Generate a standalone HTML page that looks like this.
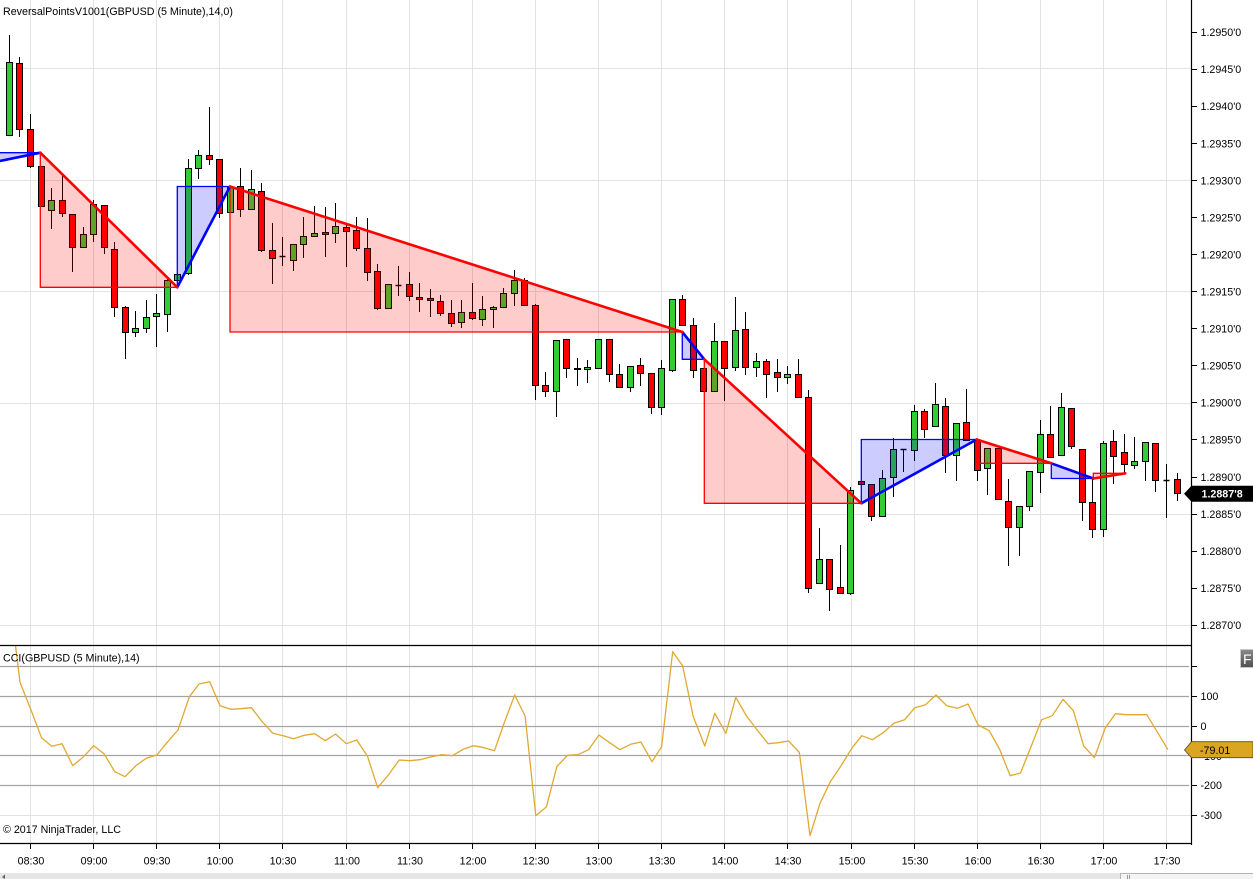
<!DOCTYPE html>
<html><head><meta charset="utf-8"><style>
html,body{margin:0;padding:0;background:#fff;}
svg{display:block;}
text{font-family:"Liberation Sans",Arial,sans-serif;font-size:10.7px;fill:#000;}
</style></head><body>
<svg width="1253" height="879" viewBox="0 0 1253 879" xmlns="http://www.w3.org/2000/svg">
<defs>
<clipPath id="cp"><rect x="0" y="0" width="1191" height="645"/></clipPath>
<clipPath id="cc"><rect x="0" y="646" width="1191" height="197"/></clipPath>
<linearGradient id="fg" x1="0" y1="0" x2="0" y2="1"><stop offset="0" stop-color="#8a8a8a"/><stop offset="1" stop-color="#505050"/></linearGradient>
</defs>
<rect x="0" y="0" width="1253" height="879" fill="#fff"/>

<!-- vertical gridlines -->
<g stroke="#e2e2e2" stroke-width="1">
<path d="M30.5 0V843M93.5 0V843M156.5 0V843M219.5 0V843M282.5 0V843M346.5 0V843M409.5 0V843M472.5 0V843M535.5 0V843M598.5 0V843M661.5 0V843M724.5 0V843M787.5 0V843M851.5 0V843M914.5 0V843M977.5 0V843M1040.5 0V843M1103.5 0V843M1166.5 0V843"/>
<path d="M0 68.5H1191M0 180.5H1191M0 291.5H1191M0 403.5H1191M0 514.5H1191M0 625.5H1191"/>
<path d="M0 815.5H1191"/>
</g>

<!-- candles -->
<g clip-path="url(#cp)">
<path stroke="#000" stroke-width="1" fill="none" d="M9.5 35V135M19.5 57V137M30.5 114V168M41.5 166V206M51.5 188V229M62.5 175V217M72.5 214V272M83.5 227V247M93.5 200V242M104.5 205V254M114.5 242V317M125.5 306V359M135.5 311V337M146.5 300V333M156.5 294V347M167.5 278V332M177.5 272V280M188.5 159V275M198.5 150V179M209.5 107V165M219.5 159V218M230.5 187V212M240.5 168V217M251.5 170V209M261.5 183V252M272.5 223V284M282.5 237V266M293.5 244V271M303.5 217V258M314.5 206V237M325.5 207V257M335.5 203V243M346.5 225V267M356.5 217V251M367.5 218V281M377.5 264V310M388.5 284V308M398.5 266V296M409.5 272V301M419.5 283V312M430.5 289V317M440.5 295V316M451.5 300V327M461.5 300V328M472.5 283V320M482.5 296V326M493.5 306V328M503.5 288V308M514.5 270V306M524.5 278V305M535.5 304V400M545.5 372V397M556.5 340V417M566.5 339V378M577.5 358V386M587.5 360V383M598.5 339V368M609.5 339V382M619.5 364V387M630.5 366V392M640.5 358V386M651.5 373V414M661.5 360V415M672.5 299V372M682.5 295V325M693.5 318V378M703.5 368V391M714.5 323V391M724.5 341V401M735.5 297V371M745.5 312V375M756.5 353V377M766.5 359V398M777.5 359V392M787.5 366V384M798.5 359V397M808.5 390V593M819.5 528V583M829.5 559V611M840.5 545V593M850.5 487V595M861.5 481V484M871.5 484V521M882.5 470V516M893.5 438V497M903.5 449V472M914.5 405V461M924.5 409V438M935.5 383V426M945.5 398V473M956.5 423V481M966.5 389V440M977.5 440V481M987.5 448V495M998.5 448V499M1008.5 479V566M1019.5 506V556M1029.5 471V511M1040.5 420V493M1050.5 406V457M1061.5 393V455M1071.5 408V449M1082.5 449V521M1092.5 479V538M1103.5 441V537M1113.5 430V484M1124.5 434V473M1134.5 437V469M1145.5 442V481M1155.5 443V492M1166.5 464V518M1177.5 473V501"/>
<g fill="#32cd32" stroke="#000" stroke-width="1">
<rect x="6.5" y="62.5" width="6" height="73"/>
<rect x="48.5" y="200.5" width="6" height="10"/>
<rect x="80.5" y="234.5" width="6" height="13"/>
<rect x="90.5" y="204.5" width="6" height="30"/>
<rect x="132.5" y="328.5" width="6" height="4"/>
<rect x="143.5" y="317.5" width="6" height="11"/>
<rect x="153.5" y="313.5" width="6" height="3"/>
<rect x="164.5" y="280.5" width="6" height="34"/>
<rect x="174.5" y="274.5" width="6" height="6"/>
<rect x="185.5" y="168.5" width="6" height="105"/>
<rect x="195.5" y="155.5" width="6" height="13"/>
<rect x="227.5" y="187.5" width="6" height="25"/>
<rect x="248.5" y="189.5" width="6" height="20"/>
<rect x="290.5" y="244.5" width="6" height="16"/>
<rect x="300.5" y="236.5" width="6" height="8"/>
<rect x="311.5" y="233.5" width="6" height="3"/>
<rect x="332.5" y="226.5" width="6" height="7"/>
<rect x="385.5" y="284.5" width="6" height="24"/>
<rect x="458.5" y="312.5" width="6" height="10"/>
<rect x="479.5" y="309.5" width="6" height="10"/>
<rect x="490.5" y="307.5" width="6" height="2"/>
<rect x="500.5" y="293.5" width="6" height="14"/>
<rect x="511.5" y="280.5" width="6" height="13"/>
<rect x="553.5" y="340.5" width="6" height="51"/>
<rect x="584.5" y="367.5" width="6" height="2"/>
<rect x="595.5" y="339.5" width="6" height="29"/>
<rect x="627.5" y="366.5" width="6" height="21"/>
<rect x="658.5" y="368.5" width="6" height="39"/>
<rect x="669.5" y="299.5" width="6" height="71"/>
<rect x="711.5" y="341.5" width="6" height="50"/>
<rect x="732.5" y="330.5" width="6" height="37"/>
<rect x="753.5" y="361.5" width="6" height="6"/>
<rect x="784.5" y="374.5" width="6" height="3"/>
<rect x="816.5" y="559.5" width="6" height="24"/>
<rect x="847.5" y="490.5" width="6" height="103"/>
<rect x="879.5" y="478.5" width="6" height="38"/>
<rect x="890.5" y="449.5" width="6" height="28"/>
<rect x="911.5" y="411.5" width="6" height="39"/>
<rect x="932.5" y="404.5" width="6" height="22"/>
<rect x="953.5" y="423.5" width="6" height="32"/>
<rect x="984.5" y="448.5" width="6" height="20"/>
<rect x="1016.5" y="506.5" width="6" height="21"/>
<rect x="1026.5" y="471.5" width="6" height="35"/>
<rect x="1037.5" y="434.5" width="6" height="38"/>
<rect x="1058.5" y="407.5" width="6" height="48"/>
<rect x="1100.5" y="443.5" width="6" height="86"/>
<rect x="1131.5" y="461.5" width="6" height="4"/>
<rect x="1142.5" y="442.5" width="6" height="19"/>
</g>
<g fill="#ff0000" stroke="#000" stroke-width="1">
<rect x="16.5" y="63.5" width="6" height="66"/>
<rect x="27.5" y="129.5" width="6" height="37"/>
<rect x="38.5" y="166.5" width="6" height="40"/>
<rect x="59.5" y="200.5" width="6" height="13"/>
<rect x="69.5" y="214.5" width="6" height="33"/>
<rect x="101.5" y="205.5" width="6" height="42"/>
<rect x="111.5" y="249.5" width="6" height="58"/>
<rect x="122.5" y="307.5" width="6" height="25"/>
<rect x="206.5" y="155.5" width="6" height="4"/>
<rect x="216.5" y="159.5" width="6" height="54"/>
<rect x="237.5" y="186.5" width="6" height="23"/>
<rect x="258.5" y="191.5" width="6" height="59"/>
<rect x="269.5" y="250.5" width="6" height="8"/>
<rect x="322.5" y="232.5" width="6" height="2"/>
<rect x="343.5" y="227.5" width="6" height="4"/>
<rect x="353.5" y="230.5" width="6" height="18"/>
<rect x="364.5" y="248.5" width="6" height="24"/>
<rect x="374.5" y="271.5" width="6" height="37"/>
<rect x="406.5" y="284.5" width="6" height="12"/>
<rect x="416.5" y="297.5" width="6" height="2"/>
<rect x="427.5" y="298.5" width="6" height="2"/>
<rect x="437.5" y="301.5" width="6" height="12"/>
<rect x="448.5" y="313.5" width="6" height="10"/>
<rect x="469.5" y="312.5" width="6" height="6"/>
<rect x="521.5" y="280.5" width="6" height="25"/>
<rect x="532.5" y="305.5" width="6" height="80"/>
<rect x="542.5" y="385.5" width="6" height="6"/>
<rect x="563.5" y="339.5" width="6" height="29"/>
<rect x="574.5" y="368.5" width="6" height="1"/>
<rect x="606.5" y="339.5" width="6" height="35"/>
<rect x="616.5" y="374.5" width="6" height="13"/>
<rect x="637.5" y="365.5" width="6" height="8"/>
<rect x="648.5" y="373.5" width="6" height="34"/>
<rect x="679.5" y="299.5" width="6" height="26"/>
<rect x="690.5" y="325.5" width="6" height="45"/>
<rect x="700.5" y="368.5" width="6" height="23"/>
<rect x="721.5" y="341.5" width="6" height="27"/>
<rect x="742.5" y="329.5" width="6" height="38"/>
<rect x="763.5" y="361.5" width="6" height="13"/>
<rect x="774.5" y="372.5" width="6" height="5"/>
<rect x="795.5" y="374.5" width="6" height="23"/>
<rect x="805.5" y="397.5" width="6" height="191"/>
<rect x="826.5" y="559.5" width="6" height="30"/>
<rect x="837.5" y="587.5" width="6" height="6"/>
<rect x="858.5" y="481.5" width="6" height="3"/>
<rect x="868.5" y="484.5" width="6" height="32"/>
<rect x="921.5" y="411.5" width="6" height="18"/>
<rect x="942.5" y="406.5" width="6" height="49"/>
<rect x="963.5" y="422.5" width="6" height="18"/>
<rect x="974.5" y="440.5" width="6" height="30"/>
<rect x="995.5" y="448.5" width="6" height="51"/>
<rect x="1005.5" y="501.5" width="6" height="26"/>
<rect x="1047.5" y="434.5" width="6" height="23"/>
<rect x="1068.5" y="408.5" width="6" height="38"/>
<rect x="1079.5" y="449.5" width="6" height="53"/>
<rect x="1089.5" y="502.5" width="6" height="27"/>
<rect x="1110.5" y="441.5" width="6" height="15"/>
<rect x="1121.5" y="452.5" width="6" height="12"/>
<rect x="1152.5" y="443.5" width="6" height="37"/>
<rect x="1174.5" y="479.5" width="6" height="14"/>
</g>
<path stroke="#000" stroke-width="1.6" d="M279.5 256.5H285.5M395.5 285.5H401.5M900.5 449.5H906.5M1163.5 480.5H1169.5"/>

<!-- overlay fills -->
<g fill="rgba(0,0,255,0.2)" stroke="none">
<polygon points="0,152.7 40.3,152.7 0,161"/>
<polygon points="177.3,287.3 177.3,186.5 230,186.5"/>
<polygon points="682.3,332 682.3,359.3 704.3,359.3"/>
<polygon points="861.3,503.3 861.3,439.5 976.7,439.5"/>
<polygon points="1051.3,463.3 1051.3,478.5 1093.3,478.5"/>
</g>
<g fill="rgba(255,0,0,0.2)" stroke="none">
<polygon points="40.3,152.7 40.3,287.3 177.3,287.3"/>
<polygon points="230,186.5 230,332 682.3,332"/>
<polygon points="704.3,359.3 704.3,503.3 861.3,503.3"/>
<polygon points="976.7,439.5 976.7,463.3 1051.3,463.3"/>
<polygon points="1093.3,478.5 1093.3,473.3 1125.3,473.3"/>
</g>
<g fill="none" stroke="#0000ff" stroke-width="1.3">
<polyline points="0,152.7 40.3,152.7"/>
<polyline points="177.3,287.3 177.3,186.5 230,186.5"/>
<polyline points="682.3,332 682.3,359.3 704.3,359.3"/>
<polyline points="861.3,503.3 861.3,439.5 976.7,439.5"/>
<polyline points="1051.3,463.3 1051.3,478.5 1093.3,478.5"/>
</g>
<g fill="none" stroke="#ff0000" stroke-width="1.3">
<polyline points="40.3,152.7 40.3,287.3 177.3,287.3"/>
<polyline points="230,186.5 230,332 682.3,332"/>
<polyline points="704.3,359.3 704.3,503.3 861.3,503.3"/>
<polyline points="976.7,439.5 976.7,463.3 1051.3,463.3"/>
<polyline points="1093.3,478.5 1093.3,473.3 1125.3,473.3"/>
</g>
<g fill="none" stroke="#0000ff" stroke-width="2.6" stroke-linecap="round">
<path d="M0 161L40.3 152.7M177.3 287.3L230 186.5M682.3 332L704.3 359.3M861.3 503.3L976.7 439.5M1051.3 463.3L1093.3 478.5"/>
</g>
<g fill="none" stroke="#ff0000" stroke-width="2.6" stroke-linecap="round">
<path d="M40.3 152.7L177.3 287.3M230 186.5L682.3 332M704.3 359.3L861.3 503.3M976.7 439.5L1051.3 463.3M1093.3 478.5L1125.3 473.3"/>
</g>
</g>

<!-- CCI level lines -->
<g stroke="#a4a4a4" stroke-width="1.3">
<path d="M0 666.5H1189M0 696.5H1189M0 726.5H1189M0 755.5H1189M0 785.5H1189"/>
</g>
<g clip-path="url(#cc)">
<polyline fill="none" stroke="#e0a930" stroke-width="1.3" stroke-linejoin="round" points="10,601 20,682.3 31,710 41.5,737.7 51.7,746.3 62,743.7 72.7,765.7 83,757.3 93.8,745.7 104,753.7 114.8,771.7 125,776.7 135.9,765.7 146.2,758.3 156.9,755 167.2,742.3 178,730 189.4,696.7 199,684 209.7,681.7 220,705.7 230.8,709.3 241,708.7 251.4,707.7 262.2,721.7 272.9,733.3 283.2,735.7 293.5,738.7 304.2,735.3 314.6,733.7 325.3,740.7 335.6,734 346.3,743.7 356.7,740 367.4,756 377.7,787.7 388.4,775 399.2,760 409.5,760.7 419.8,759.7 430.5,757 441.3,754.7 452.4,755.7 463.1,749.3 473.4,745.7 484.1,747.7 494.5,750.7 504.4,722.3 514.7,695 525.1,716 535.8,815.7 546.5,806.7 556.8,766.7 567.5,755.3 577.9,754.7 588.6,749.7 598.9,735 609.1,742.3 619.9,749.7 630.6,744.3 640.9,742 652,761.7 661.6,746.7 672.7,651.7 682.6,665.7 693.3,716.7 704.8,746 714.8,713.3 725.9,733.3 735.8,697.3 746.5,716 757.2,730 768,743.7 778.3,742.7 788.6,741 799.3,752.3 810,835.7 820,803.3 830.3,781.7 841.1,765.7 851.8,748.3 861.7,735.7 872.4,739.7 883.1,732.7 893.9,723.3 904.6,719.7 914.9,707.7 925.6,704.7 936,695 946.7,705.7 957.4,708.3 968.1,704 978.1,725 989.2,730.7 999.5,749 1010.2,775.7 1020.5,773 1031.3,746 1041.6,719.7 1052.3,715.7 1063,699.3 1073.4,710.7 1083.7,746 1094.4,757.7 1105.1,728.3 1115.4,713.7 1125.8,714.7 1136.5,714.7 1146.8,714.7 1157.5,732.3 1167.9,749.7"/>
</g>

<!-- frame -->
<g stroke="#000" stroke-width="1.2" fill="none">
<path d="M1191.5 0V845"/>
<path d="M0 645.5H1191.5"/>
<path d="M0 843.5H1191.5"/>
</g>
<!-- price ticks -->
<g stroke="#000" stroke-width="1">
<path d="M1191 32.5H1197M1191 69.5H1197M1191 106.5H1197M1191 143.5H1197M1191 180.5H1197M1191 217.5H1197M1191 254.5H1197M1191 291.5H1197M1191 328.5H1197M1191 365.5H1197M1191 402.5H1197M1191 439.5H1197M1191 477.5H1197M1191 514.5H1197M1191 551.5H1197M1191 588.5H1197M1191 625.5H1197"/>
<path d="M1191 666.5H1197M1191 696.5H1197M1191 726.5H1197M1191 755.5H1197M1191 785.5H1197M1191 815.5H1197"/>
<path d="M30.5 843V849M93.5 843V849M156.5 843V849M219.5 843V849M282.5 843V849M346.5 843V849M409.5 843V849M472.5 843V849M535.5 843V849M598.5 843V849M661.5 843V849M724.5 843V849M787.5 843V849M851.5 843V849M914.5 843V849M977.5 843V849M1040.5 843V849M1103.5 843V849M1166.5 843V849"/>
</g>
<g>
<text x="1200.5" y="36.1">1.2950'0</text>
<text x="1200.5" y="73.2">1.2945'0</text>
<text x="1200.5" y="110.2">1.2940'0</text>
<text x="1200.5" y="147.3">1.2935'0</text>
<text x="1200.5" y="184.3">1.2930'0</text>
<text x="1200.5" y="221.4">1.2925'0</text>
<text x="1200.5" y="258.5">1.2920'0</text>
<text x="1200.5" y="295.5">1.2915'0</text>
<text x="1200.5" y="332.6">1.2910'0</text>
<text x="1200.5" y="369.6">1.2905'0</text>
<text x="1200.5" y="406.7">1.2900'0</text>
<text x="1200.5" y="443.7">1.2895'0</text>
<text x="1200.5" y="480.8">1.2890'0</text>
<text x="1200.5" y="517.9">1.2885'0</text>
<text x="1200.5" y="554.9">1.2880'0</text>
<text x="1200.5" y="592">1.2875'0</text>
<text x="1200.5" y="629.1">1.2870'0</text>
<text x="1200.5" y="700.2">100</text>
<text x="1200.5" y="730.2">0</text>
<text x="1200.5" y="759.8">-100</text>
<text x="1200.5" y="789.2">-200</text>
<text x="1200.5" y="819.2">-300</text>
</g>
<!-- last price marker -->
<polygon points="1184,493.7 1191.5,485.7 1253,485.7 1253,501.7 1191.5,501.7" fill="#000"/>
<text x="1201.5" y="497.6" style="fill:#fff;font-weight:bold;">1.2887'8</text>
<!-- CCI marker -->
<polygon points="1184.5,750 1191.5,741.7 1253,741.7 1253,757.7 1191.5,757.7" fill="#daa520" stroke="#5a4a20" stroke-width="0.8"/>
<text x="1200" y="754">-79.01</text>
<!-- F button -->
<rect x="1240.5" y="649.5" width="13" height="18" fill="url(#fg)" stroke="#c8c8c8" stroke-width="1"/>
<text x="1243" y="664" style="fill:#fff;font-size:14px;">F</text>

<!-- time labels -->
<g text-anchor="middle">
<text x="31" y="864.3">08:30</text>
<text x="94" y="864.3">09:00</text>
<text x="157" y="864.3">09:30</text>
<text x="220" y="864.3">10:00</text>
<text x="283" y="864.3">10:30</text>
<text x="347" y="864.3">11:00</text>
<text x="410" y="864.3">11:30</text>
<text x="473" y="864.3">12:00</text>
<text x="536" y="864.3">12:30</text>
<text x="599" y="864.3">13:00</text>
<text x="662" y="864.3">13:30</text>
<text x="725" y="864.3">14:00</text>
<text x="788" y="864.3">14:30</text>
<text x="852" y="864.3">15:00</text>
<text x="915" y="864.3">15:30</text>
<text x="978" y="864.3">16:00</text>
<text x="1041" y="864.3">16:30</text>
<text x="1104" y="864.3">17:00</text>
<text x="1167" y="864.3">17:30</text>
</g>

<!-- titles -->
<text x="3" y="15">ReversalPointsV1001(GBPUSD (5 Minute),14,0)</text>
<text x="3" y="661.5">CCI(GBPUSD (5 Minute),14)</text>
<text x="3" y="833">© 2017 NinjaTrader, LLC</text>

<!-- scrollbar -->
<rect x="0" y="873" width="1253" height="6" fill="#e6e6e6"/>
<rect x="1120.5" y="873.5" width="133" height="6" fill="#f4f4f4" stroke="#b4b4b4" stroke-width="1"/>
<path d="M1127.5 875V879M1129.5 875V879" stroke="#999" stroke-width="1"/>
<polygon points="2,877 5,874.5 5,879" fill="#606060"/>
</svg>
</body></html>
